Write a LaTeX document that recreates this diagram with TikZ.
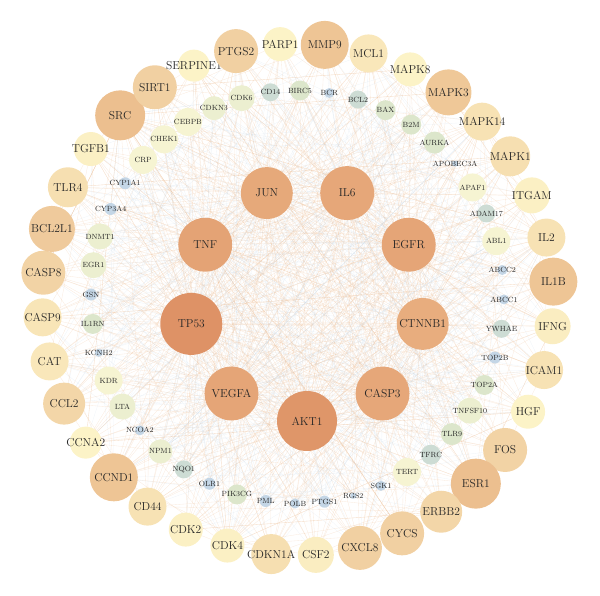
\documentclass[tikz,border=0pt]{standalone}
\usepackage{tikz}
\usetikzlibrary{positioning,calc}
\usepackage{xcolor}
\definecolor{palecol}{RGB}{253,246,202}
\definecolor{tancol}{RGB}{235,188,140}
\definecolor{hubdark}{RGB}{222,146,102}
\definecolor{hublight}{RGB}{236,184,136}
\definecolor{midblue}{RGB}{196,214,230}
\definecolor{midgrey}{RGB}{205,220,212}
\definecolor{midgreen}{RGB}{220,230,203}
\definecolor{midlime}{RGB}{236,239,208}
\definecolor{midyellow}{RGB}{246,244,210}
\definecolor{edgeorange}{RGB}{236,190,150}
\definecolor{edgeblue}{RGB}{196,214,230}
\pgfdeclarelayer{background}
\pgfsetlayers{background,main}
\tikzset{
    genenode/.style={
        circle,
        inner sep=0pt,
        outer sep=0pt,
        text=black!85
    },
    outernode/.style={
        genenode,
        font=\fontsize{11.5}{11.5}\selectfont
    },
    middlenode/.style={
        genenode,
        font=\fontsize{7.5}{7.5}\selectfont
    },
    hubnode/.style={
        genenode,
        font=\fontsize{11.5}{11.5}\selectfont
    },
    orangelink/.style={
        edgeorange,
        line width=0.35pt,
        opacity=0.3
    },
    bluelink/.style={
        edgeblue,
        line width=0.35pt,
        opacity=0.25
    }
}

\begin{document}
\begin{tikzpicture}[x=1pt,y=1pt]
    \useasboundingbox (0,0) rectangle (600,596);
    \coordinate (outerc) at (298,296.5);
    \coordinate (midc) at (297.5,299);
    \coordinate (hubc) at (307,292.5);

    % Outer ring
    \foreach \name/\r/\h [count=\i] in {PARP1/17/5, MMP9/24/85, MCL1/19/25,
        MAPK8/17/5, MAPK3/23/80, MAPK14/19/35, MAPK1/20/40, ITGAM/18/10,
        IL2/19/35, IL1B/24/85, IFNG/18/15, ICAM1/19/35, HGF/17/5, FOS/22/60,
        ESR1/25/95, ERBB2/21/55, CYCS/22/65, CXCL8/22/65, CSF2/18/15,
        CDKN1A/20/40, CDK4/17/10, CDK2/17/10, CD44/19/35, CCND1/24/85,
        CCNA2/16/5, CCL2/21/55, CAT/19/25, CASP9/19/30, CASP8/22/60,
        BCL2L1/23/75, TLR4/20/40, TGFB1/17/10, SRC/25/95, SIRT1/22/65,
        SERPINE1/16/5, PTGS2/22/65}
    {
        \node[outernode, minimum size=2*\r pt, fill=tancol!\h!palecol]
            (o\i) at ($(outerc)+({94-10*(\i-1)}:256)$) {\makebox[0pt]{\name}};
    }

    % Middle ring
    \foreach \name/\r/\c [count=\i] in {CD14/9/grey, BIRC5/10/green,
        BCR/5/blue, BCL2/9/grey, BAX/10/green, B2M/10/green, AURKA/11/green,
        APOBEC3A/3/blue, APAF1/14/yellow, ADAM17/9/grey, ABL1/14/yellow,
        ABCC2/5/blue, ABCC1/5/blue, YWHAE/9/grey, TOP2B/6/blue,
        TOP2A/10/green, TNFSF10/13/lime, TLR9/11/green, TFRC/10/grey,
        TERT/14/yellow, SGK1/5/blue, RGS2/3/blue, PTGS1/6/blue, POLB/5/blue,
        PML/6/blue, PIK3CG/10/green, OLR1/6/blue, NQO1/9/grey, NPM1/12/lime,
        NCOA2/5/blue, LTA/13/lime, KDR/14/yellow, KCNH2/4/blue,
        IL1RN/10/green, GSN/6/blue, EGR1/13/lime, DNMT1/13/lime,
        CYP3A4/6/blue, CYP1A1/6/blue, CRP/14/yellow, CHEK1/14/yellow,
        CEBPB/14/yellow, CDKN3/12/lime, CDK6/13/lime}
    {
        \node[middlenode, minimum size=2*\r pt, fill=mid\c]
            (m\i) at ($(midc)+({97.5-360/44*(\i-1)}:206.5)$) {\makebox[0pt]{\name}};
    }

    % Hub genes
    \foreach \name/\r/\h [count=\i] in {JUN/26/40, IL6/27/45, EGFR/27/50,
        CTNNB1/26/30, CASP3/27/45, AKT1/30/90, VEGFA/27/50, TP53/31/100,
        TNF/27/55}
    {
        \node[hubnode, minimum size=2*\r pt, fill=hubdark!\h!hublight]
            (c\i) at ($(hubc)+({110-40*(\i-1)}:117.5)$) {\makebox[0pt]{\name}};
    }

    % Interactions
    \begin{pgfonlayer}{background}
        \foreach \h in {1,...,9}{
            \foreach \k in {1,...,36} \draw[orangelink] (c\h) -- (o\k);
            \foreach \k in {1,3,...,43} \draw[bluelink] (c\h) -- (m\k);
            \foreach \k in {2,4,...,44} \draw[orangelink] (c\h) -- (m\k);
        }
        \foreach \k in {1,...,36}{
            \foreach \s in {1,2,3,4}{
                \pgfmathtruncatemacro\t{mod(\k*\s*11+\s*5+\k+3,36)+1}
                \draw[orangelink] (o\k) -- (o\t);
            }
        }
        \foreach \k in {1,...,44}{
            \foreach \s in {1,2,3}{
                \pgfmathtruncatemacro\t{mod(\k*\s*7+\s*13+5,36)+1}
                \draw[bluelink] (m\k) -- (o\t);
            }
            \pgfmathtruncatemacro\t{mod(\k*9+17,44)+1}
            \draw[bluelink] (m\k) -- (m\t);
        }
    \end{pgfonlayer}
\end{tikzpicture}
\end{document}
